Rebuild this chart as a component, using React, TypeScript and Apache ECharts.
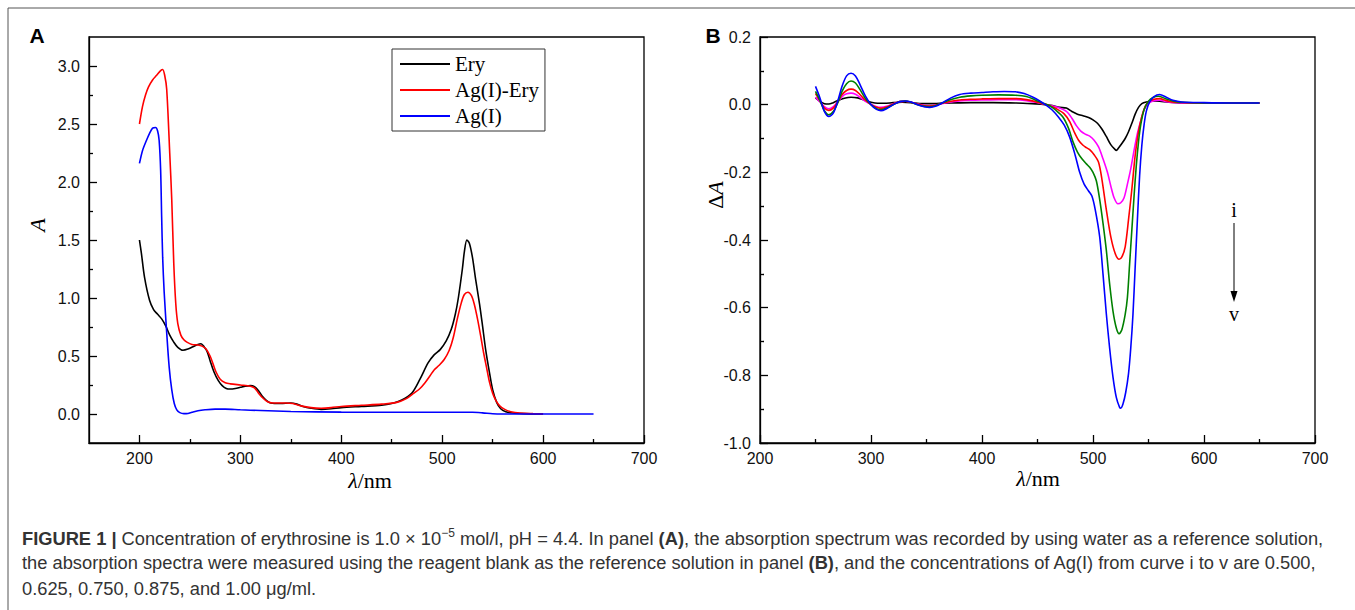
import React, { useEffect, useRef } from "react";
import * as echarts from "echarts";

// ---------- Panel A data ----------
const eryWl = [200, 202, 205, 210, 214, 218, 222, 226, 230, 234, 238, 243, 248, 253, 258, 261, 264, 267, 270, 274, 278, 282, 286, 290, 295, 300, 305, 310, 314, 318, 322, 326, 330, 340, 350, 356, 362, 370, 380, 390, 400, 420, 440, 450, 460, 470, 478, 486, 492, 498, 504, 509, 513, 516, 520, 522, 524.5, 527, 530, 533, 537, 540, 543, 547, 550, 554, 558, 563, 570, 580, 600];
const eryA = [1.50, 1.38, 1.18, 0.98, 0.90, 0.86, 0.82, 0.76, 0.68, 0.62, 0.575, 0.55, 0.56, 0.58, 0.60, 0.605, 0.58, 0.54, 0.46, 0.36, 0.29, 0.245, 0.22, 0.215, 0.22, 0.23, 0.24, 0.245, 0.235, 0.20, 0.15, 0.115, 0.095, 0.09, 0.095, 0.085, 0.065, 0.05, 0.04, 0.045, 0.055, 0.065, 0.075, 0.09, 0.12, 0.18, 0.30, 0.44, 0.51, 0.555, 0.63, 0.73, 0.86, 1.0, 1.25, 1.40, 1.50, 1.47, 1.35, 1.17, 0.95, 0.76, 0.56, 0.35, 0.21, 0.10, 0.045, 0.02, 0.008, 0.003, 0.0];

const agEryWl = [200, 203, 206, 209, 213, 217, 221, 223, 225, 227, 230, 232, 234, 236, 238, 241, 244, 247, 252, 258, 262, 266, 270, 273, 276, 280, 285, 290, 300, 310, 314, 318, 322, 327, 332, 345, 352, 360, 370, 380, 390, 400, 420, 440, 455, 465, 472, 478, 483, 488, 492, 497, 502, 507, 511, 515, 519, 522, 525.5, 529, 532, 535, 538, 541, 544, 547, 550, 553, 557, 562, 568, 577, 590, 600];
const agEryA = [2.50, 2.65, 2.75, 2.82, 2.88, 2.92, 2.96, 2.97, 2.92, 2.80, 2.25, 1.85, 1.30, 0.95, 0.78, 0.68, 0.64, 0.62, 0.60, 0.595, 0.585, 0.56, 0.50, 0.43, 0.36, 0.30, 0.27, 0.26, 0.25, 0.24, 0.225, 0.18, 0.14, 0.105, 0.095, 0.095, 0.09, 0.07, 0.055, 0.05, 0.055, 0.065, 0.075, 0.085, 0.10, 0.135, 0.18, 0.22, 0.27, 0.33, 0.38, 0.42, 0.47, 0.55, 0.66, 0.82, 0.96, 1.03, 1.05, 1.02, 0.94, 0.82, 0.68, 0.53, 0.40, 0.27, 0.18, 0.12, 0.07, 0.04, 0.02, 0.008, 0.003, 0.0];

const agWl = [200, 203, 207, 210, 213, 216, 218, 219.5, 221, 222, 223, 224.5, 227, 229.5, 232, 234.5, 237, 240, 244, 248, 252, 258, 265, 275, 285, 300, 320, 350, 400, 450, 500, 530, 540, 550, 560, 600, 650];
const agA = [2.16, 2.27, 2.36, 2.42, 2.465, 2.47, 2.44, 2.36, 2.1, 1.7, 1.35, 1.05, 0.70, 0.40, 0.21, 0.09, 0.035, 0.012, 0.003, 0.005, 0.015, 0.028, 0.036, 0.042, 0.042, 0.036, 0.03, 0.022, 0.016, 0.015, 0.015, 0.015, 0.01, 0.002, 0.0, 0.0, 0.0];

const aXMajor = [200, 300, 400, 500, 600, 700];
const aXMinor = [250, 350, 450, 550, 650];
const aYMajor = [0, 0.5, 1.0, 1.5, 2.0, 2.5, 3.0];
const aYMinor = [0.25, 0.75, 1.25, 1.75, 2.25, 2.75];

// ---------- Panel B data ----------
const vWl = [250, 254, 258, 262, 266, 270, 274, 278, 282, 286, 290, 295, 300, 305, 309, 314, 320, 326, 331, 336, 342, 348, 353, 358, 364, 372, 380, 390, 400, 410, 420, 430, 438, 446, 452, 458, 463, 469, 474, 479, 484, 488, 492, 496, 499, 502, 506, 509, 512, 515, 518, 521, 524, 525, 527, 529.5, 532, 534, 536, 538, 540, 542, 544, 546, 548, 551, 555, 560, 566, 572, 580, 600, 625, 650];
const vA = [0.054, 0.02, -0.02, -0.035, -0.025, 0.01, 0.055, 0.085, 0.093, 0.085, 0.06, 0.025, 0.0, -0.014, -0.018, -0.012, 0.0, 0.009, 0.011, 0.008, 0.0, -0.006, -0.008, -0.005, 0.005, 0.02, 0.03, 0.034, 0.036, 0.038, 0.039, 0.038, 0.033, 0.022, 0.011, -0.002, -0.015, -0.037, -0.06, -0.096, -0.15, -0.2, -0.235, -0.255, -0.27, -0.31, -0.39, -0.5, -0.618, -0.72, -0.805, -0.865, -0.895, -0.897, -0.885, -0.85, -0.795, -0.72, -0.62, -0.48, -0.34, -0.21, -0.12, -0.06, -0.02, 0.008, 0.024, 0.03, 0.022, 0.013, 0.008, 0.006, 0.005, 0.005];

const ivWl = [250, 254, 258, 262, 266, 270, 274, 278, 282, 286, 290, 295, 300, 305, 309, 314, 320, 326, 331, 336, 342, 348, 353, 358, 364, 372, 380, 390, 400, 415, 430, 440, 448, 455, 461, 466, 473, 478, 482, 486, 490, 494, 497, 500, 503, 506, 509, 512, 515, 518, 521, 523.5, 526, 529, 531, 533, 535, 537, 539, 541, 543, 546, 550, 554, 559, 565, 572, 580, 600, 650];
const ivA = [0.039, 0.012, -0.018, -0.03, -0.02, 0.005, 0.04, 0.062, 0.07, 0.064, 0.045, 0.018, 0.0, -0.012, -0.015, -0.01, 0.0, 0.009, 0.011, 0.007, 0.0, -0.005, -0.006, -0.003, 0.005, 0.015, 0.022, 0.026, 0.028, 0.029, 0.028, 0.024, 0.014, 0.004, -0.003, -0.015, -0.037, -0.07, -0.11, -0.14, -0.16, -0.175, -0.185, -0.2, -0.225, -0.28, -0.35, -0.43, -0.53, -0.61, -0.66, -0.677, -0.665, -0.62, -0.57, -0.47, -0.37, -0.27, -0.18, -0.11, -0.06, -0.015, 0.01, 0.021, 0.025, 0.018, 0.011, 0.007, 0.005, 0.005];

const iiiWl = [250, 254, 258, 262, 266, 270, 274, 278, 282, 286, 290, 295, 300, 305, 309, 314, 320, 326, 331, 336, 342, 348, 353, 358, 364, 372, 380, 390, 400, 415, 430, 440, 448, 455, 461, 467, 474, 479, 483, 487, 491, 494, 497, 501, 505, 508, 512, 516, 520, 523.5, 526, 529, 532, 535, 538, 541, 544, 547, 550, 555, 560, 566, 575, 600, 650];
const iiiA = [0.033, 0.012, -0.01, -0.017, -0.01, 0.008, 0.03, 0.042, 0.046, 0.042, 0.03, 0.013, 0.0, -0.008, -0.011, -0.007, 0.002, 0.009, 0.01, 0.007, 0.001, -0.003, -0.004, -0.002, 0.004, 0.01, 0.014, 0.016, 0.017, 0.018, 0.018, 0.015, 0.009, 0.003, -0.003, -0.012, -0.027, -0.05, -0.08, -0.105, -0.12, -0.127, -0.133, -0.148, -0.17, -0.22, -0.31, -0.39, -0.44, -0.457, -0.45, -0.42, -0.34, -0.25, -0.15, -0.08, -0.035, -0.005, 0.008, 0.016, 0.018, 0.012, 0.007, 0.005, 0.005];

const iiWl = [250, 254, 258, 262, 266, 270, 274, 278, 282, 286, 290, 295, 300, 305, 309, 314, 320, 326, 331, 336, 342, 348, 353, 358, 364, 372, 380, 390, 400, 415, 430, 440, 448, 455, 461, 468, 476, 481, 485, 489, 493, 497, 501, 505, 509, 513, 516, 519, 522.5, 525, 528, 531, 534, 537, 540, 543, 546, 550, 555, 560, 566, 575, 600, 650];
const iiA = [0.022, 0.008, -0.006, -0.012, -0.006, 0.008, 0.024, 0.032, 0.034, 0.031, 0.022, 0.01, 0.001, -0.006, -0.008, -0.005, 0.003, 0.009, 0.01, 0.007, 0.002, -0.002, -0.003, -0.001, 0.003, 0.008, 0.011, 0.013, 0.014, 0.015, 0.015, 0.012, 0.007, 0.002, -0.002, -0.008, -0.02, -0.04, -0.062, -0.078, -0.087, -0.093, -0.105, -0.125, -0.16, -0.2, -0.24, -0.275, -0.293, -0.29, -0.275, -0.235, -0.19, -0.135, -0.085, -0.048, -0.015, 0.004, 0.012, 0.013, 0.009, 0.006, 0.005, 0.005];

const iWl = [250, 254, 258, 262, 266, 270, 276, 282, 288, 294, 300, 306, 312, 320, 328, 336, 346, 354, 362, 372, 390, 410, 430, 445, 455, 462, 470, 476, 481, 486, 491, 496, 500, 504, 508, 512, 516, 520, 521, 523, 526, 529, 532, 535, 538, 541, 544, 548, 554, 560, 568, 580, 600, 650];
const iA = [0.02, 0.01, 0.003, 0.002, 0.006, 0.012, 0.019, 0.022, 0.02, 0.013, 0.007, 0.004, 0.004, 0.006, 0.007, 0.006, 0.003, 0.003, 0.004, 0.005, 0.006, 0.006, 0.005, 0.003, 0.001, -0.002, -0.008, -0.01, -0.02, -0.028, -0.033, -0.038, -0.045, -0.055, -0.072, -0.094, -0.118, -0.133, -0.135, -0.128, -0.115, -0.1, -0.08, -0.055, -0.028, -0.008, 0.003, 0.008, 0.011, 0.01, 0.007, 0.005, 0.005, 0.005];

const bXMajor = [200, 300, 400, 500, 600, 700];
const bXMinor = [250, 350, 450, 550, 650];
const bYMajor = [-1.0, -0.8, -0.6, -0.4, -0.2, 0, 0.2];
const bYMinor = [-0.9, -0.7, -0.5, -0.3, -0.1, 0.1];

const legendNames = ["Ery", "Ag(I)-Ery", "Ag(I)"];

const SANS = "'Liberation Sans', Arial, sans-serif";
const SERIF = "'Liberation Serif', 'Times New Roman', serif";

function pairs(xs: number[], ys: number[]) {
  return xs.map((x, i) => [x, ys[i]]);
}

function majorAxis(gridIndex: number, min: number, max: number, vals: number[], fmt: (v: number) => string, isX: boolean) {
  return {
    type: "value",
    gridIndex,
    min,
    max,
    position: isX ? "bottom" : "left",
    axisLine: { show: true, onZero: false, lineStyle: { color: "#000", width: 1.3 } },
    axisTick: { show: true, inside: true, length: 8, customValues: vals, lineStyle: { color: "#000", width: 1.3 } },
    axisLabel: {
      show: true,
      customValues: vals,
      formatter: fmt,
      fontFamily: SANS,
      fontSize: 16,
      color: "#111",
      margin: isX ? 7 : 9,
    },
    splitLine: { show: false },
  };
}

function minorAxis(gridIndex: number, min: number, max: number, vals: number[], isX: boolean) {
  return {
    type: "value",
    gridIndex,
    min,
    max,
    position: isX ? "bottom" : "left",
    axisLine: { show: false, onZero: false },
    axisTick: { show: true, inside: true, length: 4, customValues: vals, lineStyle: { color: "#000", width: 1.3 } },
    axisLabel: { show: false },
    splitLine: { show: false },
  };
}

function lineSeries(name: string, color: string, data: number[][], xi: number, yi: number) {
  return {
    type: "line",
    name,
    data,
    xAxisIndex: xi,
    yAxisIndex: yi,
    symbol: "none",
    showSymbol: false,
    smooth: 0.3,
    lineStyle: { color, width: 1.6 },
    itemStyle: { color },
  };
}

function txt(x: number, y: number, text: string, extra: any = {}, rotation = 0) {
  return {
    type: "text",
    x,
    y,
    rotation,
    style: {
      text,
      align: "center",
      verticalAlign: "middle",
      textAlign: "center",
      textVerticalAlign: "middle",
      fill: "#000",
      ...extra,
    },
  };
}

export default function App() {
  const ref = useRef<HTMLDivElement>(null);

  useEffect(() => {
    if (!ref.current) return;
    const chart = echarts.init(ref.current, null, { renderer: "svg" });
    const f1 = (v: number) => v.toFixed(1);
    const f0 = (v: number) => String(Math.round(v));
    const CAP_FONT = "'Liberation Sans', Arial, sans-serif";
    const CAP_SIZE = 18.3;
    const captionRich = {
      b: { fontFamily: CAP_FONT, fontWeight: "bold", fontSize: CAP_SIZE, fill: "#333", color: "#333" },
      sup: { fontFamily: CAP_FONT, fontSize: 12, fill: "#333", color: "#333", verticalAlign: "top", lineHeight: 22 },
    };
    const capStyle = {
      fontFamily: CAP_FONT,
      fontSize: CAP_SIZE,
      fill: "#333",
      align: "left",
      textAlign: "left",
      rich: captionRich,
    };
    const option: any = {
      animation: false,
      backgroundColor: "#fff",
      grid: [
        { left: 89, top: 37, width: 555, height: 406, show: true, borderColor: "#000", borderWidth: 1.3 },
        { left: 760, top: 37, width: 555, height: 406, show: true, borderColor: "#000", borderWidth: 1.3 },
      ],
      xAxis: [
        majorAxis(0, 150, 700, aXMajor, f0, true),
        minorAxis(0, 150, 700, aXMinor, true),
        majorAxis(1, 200, 700, bXMajor, f0, true),
        minorAxis(1, 200, 700, bXMinor, true),
      ],
      yAxis: [
        majorAxis(0, -0.25, 3.25, aYMajor, f1, false),
        minorAxis(0, -0.25, 3.25, aYMinor, false),
        majorAxis(1, -1.0, 0.2, bYMajor, f1, false),
        minorAxis(1, -1.0, 0.2, bYMinor, false),
      ],
      legend: {
        data: legendNames,
        orient: "vertical",
        left: 392,
        top: 49,
        padding: [3, 6, 3, 8],
        itemGap: 2,
        itemWidth: 50,
        itemHeight: 2,
        icon: "rect",
        borderColor: "#333",
        borderWidth: 1,
        backgroundColor: "#fff",
        textStyle: { fontFamily: SERIF, fontSize: 21, color: "#000", lineHeight: 24 },
      },
      series: [
        lineSeries("Ery", "#000000", pairs(eryWl, eryA), 0, 0),
        lineSeries("Ag(I)-Ery", "#ff0000", pairs(agEryWl, agEryA), 0, 0),
        lineSeries("Ag(I)", "#0000ff", pairs(agWl, agA), 0, 0),
        lineSeries("i", "#000000", pairs(iWl, iA), 2, 2),
        lineSeries("ii", "#ff00ff", pairs(iiWl, iiA), 2, 2),
        lineSeries("iii", "#ff0000", pairs(iiiWl, iiiA), 2, 2),
        lineSeries("iv", "#008000", pairs(ivWl, ivA), 2, 2),
        lineSeries("v", "#0000ff", pairs(vWl, vA), 2, 2),
      ],
      graphic: [
        {
          type: "rect",
          shape: { x: 8, y: 8, width: 1360, height: 620 },
          style: { fill: "none", stroke: "#555", lineWidth: 1 },
          silent: true,
        },
        txt(37, 35, "A", { fontFamily: SANS, fontWeight: "bold", fontSize: 21 }),
        txt(713, 35, "B", { fontFamily: SANS, fontWeight: "bold", fontSize: 21 }),
        txt(37, 225, "A", { fontFamily: SERIF, fontStyle: "italic", fontSize: 22 }, Math.PI / 2),
        txt(715, 195, "{i|Δ}{it|A}", {
          fontFamily: SERIF,
          fontSize: 22,
          rich: {
            i: { fontFamily: SERIF, fontSize: 22 },
            it: { fontFamily: SERIF, fontSize: 22, fontStyle: "italic" },
          },
        }, Math.PI / 2),
        txt(370, 480, "{it|λ}/nm", {
          fontFamily: SERIF,
          fontSize: 22,
          rich: { it: { fontFamily: SERIF, fontSize: 22, fontStyle: "italic" } },
        }),
        txt(1038, 478, "{it|λ}/nm", {
          fontFamily: SERIF,
          fontSize: 22,
          rich: { it: { fontFamily: SERIF, fontSize: 22, fontStyle: "italic" } },
        }),
        txt(1234, 210, "i", { fontFamily: SERIF, fontSize: 20 }),
        txt(1234, 314, "v", { fontFamily: SERIF, fontSize: 20 }),
        {
          type: "line",
          shape: { x1: 1234, y1: 223, x2: 1234, y2: 294 },
          style: { stroke: "#000", lineWidth: 1 },
        },
        {
          type: "polygon",
          shape: { points: [[1230.5, 291], [1237.5, 291], [1234, 302]] },
          style: { fill: "#000" },
        },
        {
          type: "text",
          x: 22,
          y: 527,
          style: {
            ...capStyle,
            text: "{b|FIGURE 1 |} Concentration of erythrosine is 1.0 × 10{sup|−5} mol/l, pH = 4.4. In panel {b|(A)}, the absorption spectrum was recorded by using water as a reference solution,",
          },
        },
        {
          type: "text",
          x: 22,
          y: 553,
          style: {
            ...capStyle,
            text: "the absorption spectra were measured using the reagent blank as the reference solution in panel {b|(B)}, and the concentrations of Ag(I) from curve i to v are 0.500,",
          },
        },
        {
          type: "text",
          x: 22,
          y: 579,
          style: { ...capStyle, text: "0.625, 0.750, 0.875, and 1.00 μg/ml." },
        },
      ],
    };
    chart.setOption(option);
    return () => chart.dispose();
  }, []);

  return (
    <div
      ref={ref}
      style={{ position: "absolute", left: 0, top: 0, width: 1355, height: 610, background: "#fff" }}
    />
  );
}
